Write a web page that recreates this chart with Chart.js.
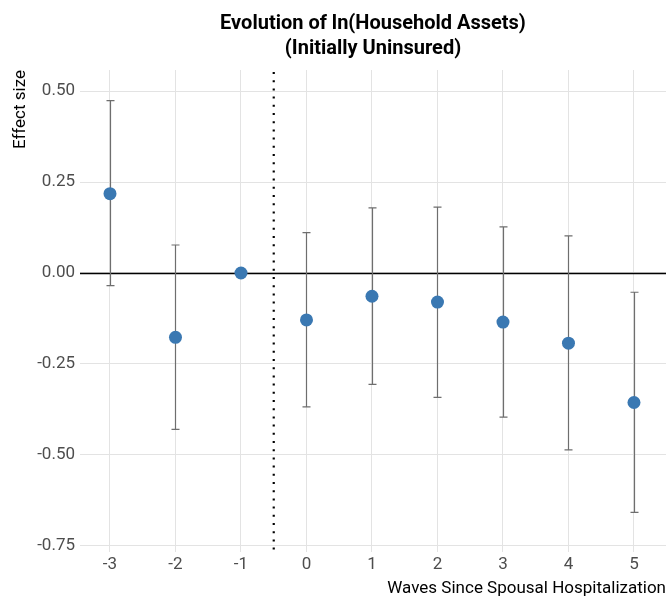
<!DOCTYPE html>
<html>
<head>
<meta charset="utf-8">
<script src="https://cdn.jsdelivr.net/npm/chart.js@4/dist/chart.umd.min.js"></script>
<style>
  html, body { margin: 0; padding: 0; background: #ffffff; }
  #wrap { width: 666px; height: 602px; }
</style>
</head>
<body>
<div id="wrap"><canvas id="chart" width="666" height="602"></canvas></div>
<script>
// Event-study estimates: waves relative to spousal hospitalization
const waves = [-3, -2, -1, 0, 1, 2, 3, 4, 5];
const estimates = [0.218, -0.177, 0.0, -0.129, -0.064, -0.080, -0.135, -0.193, -0.356];
const ciLower = [-0.035, -0.430, 0.0, -0.368, -0.306, -0.342, -0.396, -0.486, -0.658];
const ciUpper = [0.474, 0.077, 0.0, 0.111, 0.179, 0.181, 0.127, 0.102, -0.053];
const yTicks = [-0.75, -0.50, -0.25, 0.00, 0.25, 0.50];
const eventLine = -0.5;

const FONT = "Roboto, 'Liberation Sans', sans-serif";

// Reference lines (zero effect, event timing) and confidence intervals
const overlays = {
  id: 'overlays',
  beforeDatasetsDraw(chart) {
    const { ctx, chartArea: a, scales: { x, y } } = chart;
    ctx.save();
    // horizontal zero line
    const y0 = Math.round(y.getPixelForValue(0)) + 0.5;
    ctx.strokeStyle = '#000000';
    ctx.lineWidth = 1.3;
    ctx.beginPath();
    ctx.moveTo(a.left, y0);
    ctx.lineTo(a.right, y0);
    ctx.stroke();
    // dotted event line
    const xe = x.getPixelForValue(eventLine);
    ctx.setLineDash([2, 6.2]);
    ctx.lineWidth = 2.2;
    ctx.beginPath();
    ctx.moveTo(xe, a.top + 2);
    ctx.lineTo(xe, a.bottom);
    ctx.stroke();
    ctx.setLineDash([]);
    // error bars
    ctx.strokeStyle = '#6e6e6e';
    ctx.lineWidth = 1.2;
    waves.forEach((w, i) => {
      if (ciLower[i] === ciUpper[i]) return;
      const px = Math.round(x.getPixelForValue(w)) + 0.5;
      const pl = y.getPixelForValue(ciLower[i]);
      const pu = y.getPixelForValue(ciUpper[i]);
      ctx.beginPath();
      ctx.moveTo(px, pu); ctx.lineTo(px, pl);
      ctx.moveTo(px - 4, pu); ctx.lineTo(px + 4, pu);
      ctx.moveTo(px - 4, pl); ctx.lineTo(px + 4, pl);
      ctx.stroke();
    });
    ctx.restore();
  }
};

new Chart(document.getElementById('chart'), {
  type: 'scatter',
  data: {
    datasets: [{
      data: waves.map((w, i) => ({ x: w, y: estimates[i] })),
      backgroundColor: '#3a78b2',
      borderWidth: 0,
      pointRadius: 6.5,
      pointHoverRadius: 6.5
    }]
  },
  options: {
    responsive: false,
    animation: false,
    events: [],
    layout: { autoPadding: false, padding: 0 },
    plugins: {
      legend: { display: false },
      tooltip: { enabled: false },
      title: {
        display: true,
        fullSize: false,
        text: ['Evolution of ln(Household Assets)', '(Initially Uninsured)'],
        color: '#000000',
        font: { family: FONT, size: 20, weight: 'bold', lineHeight: 1.25 },
        padding: { top: 11, bottom: 9 }
      }
    },
    scales: {
      x: {
        type: 'linear',
        min: -3.458,
        max: 5.489,
        afterBuildTicks(scale) { scale.ticks = waves.map(v => ({ value: v })); },
        afterFit(scale) { scale.height = 50; },
        grid: { color: '#e3e3e3', lineWidth: 1, drawTicks: false },
        border: { display: false },
        ticks: {
          color: '#4d4d4d',
          padding: 3,
          font: { family: FONT, size: 17 },
          callback: v => String(v)
        },
        title: {
          display: true,
          text: 'Waves Since Spousal Hospitalization',
          align: 'end',
          color: '#000000',
          font: { family: FONT, size: 17 },
          padding: { top: 0, bottom: 3 }
        }
      },
      y: {
        min: -0.767,
        max: 0.558,
        afterBuildTicks(scale) { scale.ticks = yTicks.map(v => ({ value: v })); },
        afterFit(scale) { scale.width = 80; },
        grid: { color: '#e3e3e3', lineWidth: 1, drawTicks: false },
        border: { display: false },
        ticks: {
          color: '#4d4d4d',
          padding: 5,
          font: { family: FONT, size: 17 },
          callback: v => v.toFixed(2)
        },
        title: {
          display: true,
          text: 'Effect size',
          align: 'end',
          color: '#000000',
          font: { family: FONT, size: 17 },
          padding: { top: 11, bottom: 0 }
        }
      }
    }
  },
  plugins: [overlays]
});
</script>
</body>
</html>
